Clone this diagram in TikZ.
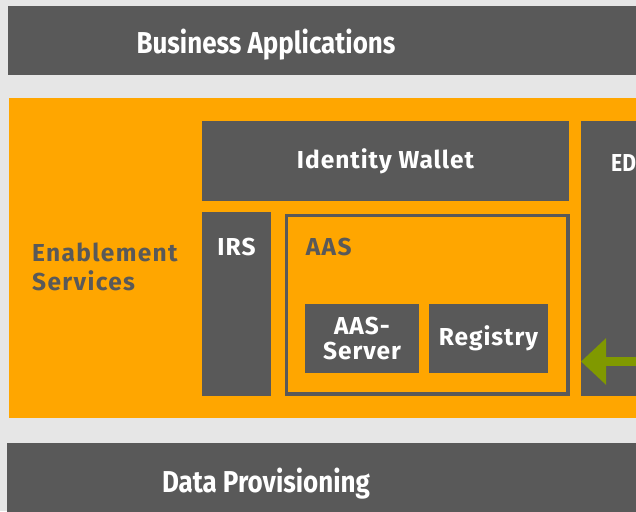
\documentclass[tikz,border=0pt]{standalone}
\usepackage{fontspec}
\setmainfont{Fira Sans}
\newfontfamily\barfont{Fira Sans}[FakeStretch=0.86]
\newfontfamily\boxfont{Fira Sans}[LetterSpace=4]
\newfontfamily\darkfont{Fira Sans}[LetterSpace=5.5]
\usetikzlibrary{positioning,arrows.meta}

\definecolor{cxgray}{RGB}{89,89,89}
\definecolor{cxorange}{RGB}{255,166,0}
\definecolor{cxback}{RGB}{230,230,230}
\definecolor{cxgreen}{RGB}{128,153,0}

\tikzset{
  dims/.style 2 args={minimum width=#1pt, minimum height=#2pt},
  block/.style={fill=cxgray, draw=none, inner sep=0pt, outer sep=0pt, anchor=north west},
  panel/.style={fill=cxorange, draw=none, inner sep=0pt, outer sep=0pt, anchor=north west},
  frame/.style={draw=cxgray, line width=3.5pt, fill=none, inner sep=0pt, anchor=north west},
  bartext/.style={text=white, font=\barfont\bfseries\fontsize{30.2}{31}\selectfont, inner sep=0pt, anchor=base},
  boxtext/.style={text=white, font=\boxfont\bfseries\fontsize{24.5}{25}\selectfont, align=center, inner sep=0pt},
  darktext/.style={text=cxgray, font=\darkfont\bfseries\fontsize{24.5}{29.3}\selectfont, inner sep=0pt},
  flow/.style={draw=cxgreen, line width=9pt, -{Triangle[length=25pt, width=45pt]}}
}

\begin{document}
\begin{tikzpicture}[x=1pt,y=-1pt]

  % Hintergrund
  \useasboundingbox[fill=cxback] (0,0) rectangle (636,511);
  \clip (0,0) rectangle (636,511);

  % Schichten
  \node[block, dims={628}{69}] (biz) at (8,6) {};
  \node[bartext] (biztext) at (266,53) {Business Applications};
  \node[panel, dims={627}{320}] (enable) at (9,98) {};
  \node[block, dims={629}{70}] (data) at (7,443) {};
  \node[bartext] (datatext) at (266,492) {Data Provisioning};

  % Enablement Services
  \node[darktext, anchor=west, align=left] (enabletext) at (32,267) {Enablement\\Services};

  \node[block, dims={367}{80}, boxtext] (wallet) at (202,121) {Identity Wallet};
  \node[block, dims={69}{184}] (irs) at (202,212) {};
  \node[boxtext, anchor=base] (irstext) at (236.5,255.7) {IRS};
  \node[block, dims={55}{275}] (edc) at (581,121) {};
  \node[bartext, font=\barfont\bfseries\fontsize{24.5}{25}\selectfont, anchor=base west] (edctext) at (611,171) {ED};

  % AAS
  \node[frame, dims={281.5}{178.5}] (aas) at (284.75,213.75) {};
  \node[darktext, anchor=base west] (aastext) at (305.7,255.7) {AAS};
  \foreach \name/\x/\w/\txt in {server/305/114/{AAS-\\Server}, registry/429/119/Registry}{
    \node[block, dims={\w}{69}, boxtext] (\name) at (\x,304) {\txt};
  }

  % Anbindung
  \coordinate (edcport) at (636,361.5);
  \draw[flow] (edcport) -- (edcport -| edc.west);

\end{tikzpicture}
\end{document}
